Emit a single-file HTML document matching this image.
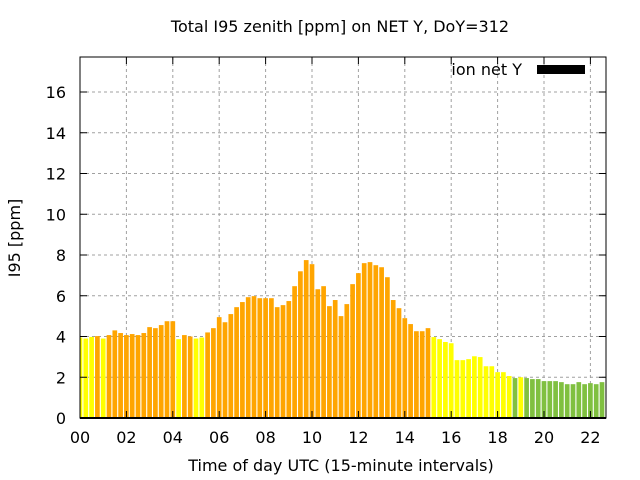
<!DOCTYPE html>
<html><head><meta charset="utf-8"><style>
body{margin:0;background:#fff;}
svg{display:block;font-family:"DejaVu Sans","Liberation Sans",sans-serif;}
</style></head><body>
<svg id="chart" width="640" height="480" xmlns="http://www.w3.org/2000/svg">
<rect width="640" height="480" fill="#fff"/>
<text x="340" y="32" text-anchor="middle" font-size="16" fill="#000">Total I95 zenith [ppm] on NET Y, DoY=312</text>
<text transform="translate(20,238) rotate(-90)" text-anchor="middle" font-size="16">I95 [ppm]</text>
<text x="341" y="471" text-anchor="middle" font-size="16">Time of day UTC (15-minute intervals)</text>
<g id="grid"></g>
<g id="bars"></g>
<g id="axes"></g>
<g>
<text x="522" y="75" text-anchor="end" font-size="16">ion net Y</text>
<rect x="537" y="65" width="48" height="9" fill="#000"/>
</g>
</svg>
<script>
const values = [3.95,3.9,3.98,4.02,3.9,4.07,4.3,4.17,4.07,4.12,4.07,4.17,4.46,4.41,4.56,4.75,4.75,3.87,4.07,4.0,3.9,3.95,4.2,4.41,4.95,4.7,5.1,5.44,5.69,5.93,5.98,
5.88,5.88,5.88,5.44,5.54,5.74,6.47,7.2,7.75,7.55,6.32,6.47,5.49,5.79,5.0,5.59,6.57,7.11,7.6,7.65,7.5,7.4,6.91,5.79,5.39,4.9,4.61,4.26,4.26,4.41,3.97,3.87,3.73,3.67,
2.84,2.84,2.89,3.03,2.99,2.54,2.54,2.25,2.25,2.06,1.96,2.0,1.96,1.91,1.91,1.81,1.81,1.81,1.76,1.66,1.66,1.76,1.66,1.71,1.66,1.76,1.66];
const yTicks = [0,2,4,6,8,10,12,14,16];
const xTicks = ["00","02","04","06","08","10","12","14","16","18","20","22"];
const L=80,R=606,T=57,B=418;
const sx=h=>L+h*23.2, sy=v=>B-v*20.375;
const NS="http://www.w3.org/2000/svg";
function mk(tag,attrs,parent){const e=document.createElementNS(NS,tag);for(const k in attrs)e.setAttribute(k,attrs[k]);parent.appendChild(e);return e;}
const grid=document.getElementById('grid'),bars=document.getElementById('bars'),axes=document.getElementById('axes');
yTicks.forEach(v=>{const y=sy(v);
 if(v>0){const g=mk('line',{x1:L,x2:R,y1:y,y2:y,stroke:'#a0a0a0','stroke-dasharray':'3,3'},grid);
 
 }
 mk('line',{x1:L,x2:L+7,y1:y,y2:y,stroke:'#000'},axes);
 mk('line',{x1:R-7,x2:R,y1:y,y2:y,stroke:'#000'},axes);
 const t=mk('text',{x:L-14,y:y+6,'text-anchor':'end','font-size':16},axes);t.textContent=v;
 
 
});
xTicks.forEach((s,i)=>{const h=i*2,x=sx(h);
 if(h>0){const g=mk('line',{x1:x,x2:x,y1:T,y2:B,stroke:'#a0a0a0','stroke-dasharray':'3,3'},grid);
 
 }
 mk('line',{x1:x,x2:x,y1:B,y2:B-7,stroke:'#000'},axes);
 mk('line',{x1:x,x2:x,y1:T,y2:T+7,stroke:'#000'},axes);
 const t=mk('text',{x:x,y:B+25,'text-anchor':'middle','font-size':16},axes);t.textContent=s;
 
 
});
const cp=mk('clipPath',{id:'clip'},bars);mk('rect',{x:L,y:T,width:R-L,height:B-T},cp);
const bg=mk('g',{'clip-path':'url(#clip)'},bars);
values.forEach((v,i)=>{const h=i*0.25,x=sx(h),w=4.7;
 const c=v>=4?'#ffa500':(v>=2?'#ffff00':'#80c040');
 const r=mk('rect',{x:x-w/2,y:sy(v),width:w,height:B-sy(v),fill:c},bg);
 
 
});
const f=mk('rect',{x:L,y:T,width:R-L,height:B-T,fill:'none',stroke:'#000','stroke-width':1},axes);


mk('line',{x1:L,x2:R,y1:B,y2:B,stroke:'#000','stroke-width':2},axes);
</script>
</body></html>
